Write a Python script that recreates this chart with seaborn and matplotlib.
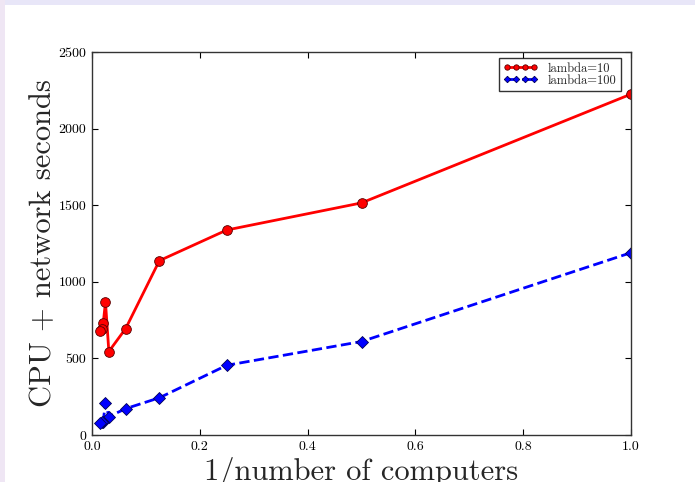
import numpy as np
import pandas as pd
import matplotlib
matplotlib.use("Agg")
import matplotlib.pyplot as plt
import seaborn as sns
from matplotlib.patches import Rectangle

# ---- data ----
computers = [1, 2, 4, 8, 16, 32, 40, 48, 56, 64]
lambda10_seconds = [2225, 1515, 1338, 1138, 695, 545, 868, 729, 690, 678]
lambda100_seconds = [1190, 610, 455, 243, 172, 120, 212, 88, 82, 80]
series_names = ["lambda=10", "lambda=100"]
x_ticks = [0.0, 0.2, 0.4, 0.6, 0.8, 1.0]
y_ticks = [0, 500, 1000, 1500, 2000, 2500]
x_label = "1/number of computers"
y_label = "CPU + network seconds"

inv = [1.0 / n for n in computers]
df10 = pd.DataFrame({"x": inv, "y": lambda10_seconds})
df100 = pd.DataFrame({"x": inv, "y": lambda100_seconds})

sns.set_style("white")
plt.rcParams["font.family"] = ["cmr10", "DejaVu Serif"]
plt.rcParams["axes.formatter.use_mathtext"] = True
plt.rcParams["mathtext.fontset"] = "cm"

fig = plt.figure(figsize=(6.95, 4.82), dpi=100)
fig.patch.set_facecolor("white")
# slide frame: lavender top strip and left strip
fig.patches.append(Rectangle((0, 1 - 5 / 482), 1, 5 / 482, transform=fig.transFigure,
                             facecolor="#e8e6f8", edgecolor="none", zorder=0))
fig.patches.append(Rectangle((0, 0), 5 / 695, 1, transform=fig.transFigure,
                             facecolor="#efe6f4", edgecolor="none", zorder=0))

ax = fig.add_axes([92 / 695, 1 - 435 / 482, 539 / 695, 383 / 482])

sns.lineplot(data=df10, x="x", y="y", ax=ax, sort=False, color="#ff0000",
             linewidth=2, marker="o", markersize=7, markeredgecolor="#550000",
             markeredgewidth=0.6, label=series_names[0], estimator=None)
sns.lineplot(data=df100, x="x", y="y", ax=ax, sort=False, color="#0000ff",
             linewidth=2, marker="D", markersize=6, markeredgecolor="#000055",
             markeredgewidth=0.6, label=series_names[1], estimator=None,
             linestyle="--", dashes=(3.5, 2.5))

ax.set_xlim(0, 1.0)
ax.set_ylim(0, 2500)
ax.set_xticks(x_ticks)
ax.set_yticks(y_ticks)
ax.set_xticklabels([f"{t:.1f}" for t in x_ticks], fontsize=10)
ax.set_yticklabels([str(t) for t in y_ticks], fontsize=10)
ax.tick_params(direction="in", length=4, width=0.8, top=True, right=True,
               bottom=True, left=True, colors="black", pad=4)
for s in ax.spines.values():
    s.set_color("#333333")
    s.set_linewidth(1.0)
ax.set_xlabel(x_label, fontsize=22, labelpad=3)
ax.set_ylabel(y_label, fontsize=22, labelpad=1)
ax.grid(False)

leg = ax.legend(loc="upper right", bbox_to_anchor=((621 - 92) / 539, (435 - 58) / 383),
                fontsize=9, numpoints=4, markerscale=0.55,
                frameon=True, fancybox=False, handlelength=2.8, handletextpad=0.8,
                borderpad=0.35, labelspacing=0.0, borderaxespad=0.0)
leg.get_frame().set_edgecolor("black")
leg.get_frame().set_linewidth(1.0)

fig.savefig("out.png", dpi=100, facecolor=fig.get_facecolor())
